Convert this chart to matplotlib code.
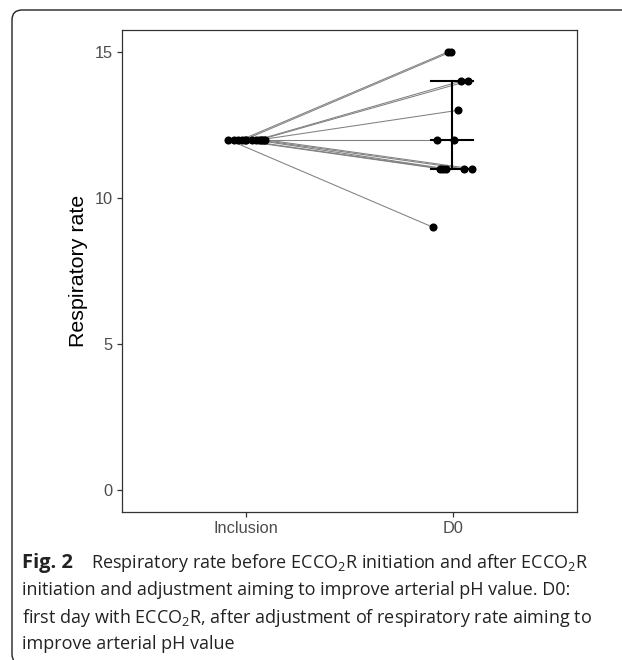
import matplotlib
matplotlib.use("Agg")
import matplotlib.pyplot as plt
from matplotlib.patches import FancyBboxPatch
import numpy as np

# Data
time_labels = ["Inclusion", "D0"]
inclusion_rr = [12, 12, 12, 12, 12, 12, 12, 12, 12, 12, 12, 12, 12]
d0_rr = [15, 15, 14, 14, 13, 12, 12, 11, 11, 11, 11, 11, 9]
inclusion_jitter = [-0.02, -0.005, 0.06, 0.07, 0.077, 0.09, 0.0, -0.06, -0.04, 0.03, 0.05, 0.085, -0.087]
d0_jitter = [-0.024, -0.01, 0.039, 0.072, 0.024, -0.077, 0.005, -0.063, -0.048, -0.034, 0.053, 0.092, -0.097]
y_ticks = [0, 5, 10, 15]

plt.rcParams['mathtext.fontset'] = 'custom'
plt.rcParams['mathtext.rm'] = 'Open Sans'

fig = plt.figure(figsize=(6.22, 6.6), dpi=100)
W, H = 622, 660

# outer rounded frame (inches)
frame = FancyBboxPatch((0.12, -0.04), 6.5, 6.54,
                       boxstyle="round,pad=0,rounding_size=0.1",
                       transform=fig.dpi_scale_trans, fill=False,
                       edgecolor="#222222", linewidth=1.0)
fig.patches.append(frame)

ax = fig.add_axes([122 / W, 1 - 512 / H, 455 / W, 482 / H])

x_inc = 1 + np.array(inclusion_jitter)
x_d0 = 2 + np.array(d0_jitter)

# paired lines
for xi, yi, xd, yd in zip(x_inc, inclusion_rr, x_d0, d0_rr):
    ax.plot([xi, xd], [yi, yd], color="#808080", linewidth=0.75, zorder=1)

ax.scatter(x_inc, inclusion_rr, s=34, color="black", zorder=3, linewidths=0)
ax.scatter(x_d0, d0_rr, s=34, color="black", zorder=3, linewidths=0)

# median and IQR at D0
q1, med, q3 = np.percentile(d0_rr, [25, 50, 75])
xc = 1.995
ax.plot([xc, xc], [q1, q3], color="black", linewidth=1.5, zorder=2)
for yv in (q1, med, q3):
    ax.plot([xc - 0.1, xc + 0.1], [yv, yv], color="black", linewidth=1.5, zorder=2)

ax.set_xlim(0.4, 2.6)
ax.set_ylim(-0.75, 15.75)
ax.set_xticks([1, 2])
ax.set_xticklabels(time_labels)
ax.set_yticks(y_ticks)
ax.tick_params(axis="both", colors="#333333", labelcolor="#4d4d4d",
               labelsize=11.8, length=3.5, width=0.9, pad=3)
for lab in ax.get_xticklabels() + ax.get_yticklabels():
    lab.set_family("Liberation Sans")
for sp in ax.spines.values():
    sp.set_color("#333333")
    sp.set_linewidth(0.9)
ax.set_ylabel("Respiratory rate", fontsize=15.4, family="Liberation Sans",
              color="black", labelpad=5)

# caption
cap_font = dict(family="Open Sans", fontsize=13.0, color="#222222", va="baseline")
fig.text(22 / W, 1 - 568 / H, "Fig. 2", fontweight="bold",
         **{**cap_font, "fontsize": 14.5})
fig.text(91 / W, 1 - 568 / H,
         r"Respiratory rate before ECCO$_2$R initiation and after ECCO$_2$R", **cap_font)
fig.text(22 / W, 1 - 595 / H,
         "initiation and adjustment aiming to improve arterial pH value. D0:", **cap_font)
fig.text(22 / W, 1 - 623 / H,
         r"first day with ECCO$_2$R, after adjustment of respiratory rate aiming to", **cap_font)
fig.text(22 / W, 1 - 649 / H, "improve arterial pH value", **cap_font)

fig.savefig("out.png", dpi=100)
